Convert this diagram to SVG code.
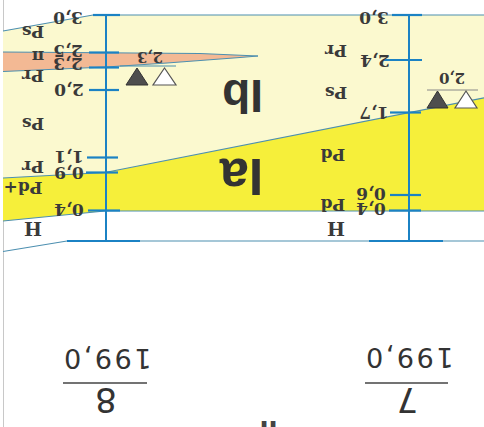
<svg xmlns="http://www.w3.org/2000/svg" width="484" height="427" viewBox="0 0 484 427">
<style>
.lbl{font-family:"DejaVu Serif","Liberation Serif",serif;font-size:17px;font-weight:bold;fill:#3a3a3a;text-anchor:middle}
.sm{font-size:15px}
.big{font-family:"Liberation Sans",Arial,sans-serif;font-weight:bold;fill:#333;text-anchor:middle}
.frac{font-family:"DejaVu Sans","Liberation Sans",sans-serif;fill:#333;text-anchor:middle}
.axis{stroke:#1b82c4;stroke-width:2;fill:none}
.tick{stroke:#1b82c4;stroke-width:2.2;fill:none}
.thin{stroke:#4c8fb0;stroke-width:1.2;fill:none}
</style>
<rect width="484" height="427" fill="#fff"/>
<line x1="3.5" y1="0" x2="3.5" y2="427" stroke="#c8c8c8" stroke-width="1"/>
<g id="zones">
<polygon points="3,31 93,15 484,15 484,97.8 105,172.5 3,178" fill="#fbf9cf"/>
<polygon points="3,178 105,172.5 484,97.8 484,211 105,211 3,221" fill="#f6ef3a"/>
<polygon points="3,52 200,53.5 258,56 240,57.5 167,63 106,67 3,71.5" fill="#f3b994"/>
</g>
<g id="connectors">
<polyline class="thin" points="3,31 93,15 484,15"/>
<polyline class="thin" points="3,178 105,172.5 484,97.8"/>
<polyline class="thin" points="3,221 105,211 484,211"/>
<polyline class="thin" points="3,251.5 67,241 484,241"/>
<polyline class="thin" points="3,52 200,53.5 258,56"/>
<polyline class="thin" points="3,71.5 106,67 167,63 240,57.5 258,56"/>
<line class="thin" x1="120" y1="66" x2="176" y2="66" stroke="#777"/>
<line x1="427" y1="90" x2="478" y2="90" stroke="#888" stroke-width="1"/>
</g>
<g id="axis-left">
<line class="axis" x1="106" y1="15" x2="106" y2="241"/>
<line class="tick" x1="93" y1="15" x2="120" y2="15"/>
<line class="tick" x1="89" y1="52.5" x2="119" y2="52.5"/>
<line class="tick" x1="89" y1="67.5" x2="119" y2="67.5"/>
<line class="tick" x1="89" y1="90" x2="119" y2="90"/>
<line class="tick" x1="87" y1="157.5" x2="118" y2="157.5"/>
<line class="tick" x1="86" y1="172.5" x2="118" y2="172.5"/>
<line class="tick" x1="88" y1="210.5" x2="120" y2="210.5"/>
<line class="tick" x1="67" y1="241" x2="140" y2="241"/>
</g>
<g id="axis-right">
<line class="axis" x1="409" y1="15" x2="409" y2="241"/>
<line class="tick" x1="392" y1="15" x2="422" y2="15"/>
<line class="tick" x1="383" y1="60" x2="422" y2="60"/>
<line class="tick" x1="390" y1="112.5" x2="421" y2="112.5"/>
<line class="tick" x1="390" y1="195" x2="421" y2="195"/>
<line class="tick" x1="389" y1="210.5" x2="421" y2="210.5"/>
<line class="tick" x1="369" y1="241" x2="443" y2="241"/>
</g>
<g id="triangles">
<polygon points="126,85 148,85 137,68" fill="#4e4e4e" stroke="#333" stroke-width="1"/>
<polygon points="153,85 176,85 164.5,68" fill="#fff" stroke="#555" stroke-width="1.2"/>
<polygon points="427,108 448,108 437.5,91" fill="#4e4e4e" stroke="#333" stroke-width="1"/>
<polygon points="455,108 477,108 466,91" fill="#fff" stroke="#555" stroke-width="1.2"/>
</g>
<g id="labels-left">
<text class="lbl" transform="translate(68,18.5) rotate(180)" y="6.2">3,0</text>
<text class="lbl" transform="translate(33,32) rotate(180)" y="6.2">Ps</text>
<text class="lbl" transform="translate(68,51) rotate(180)" y="6.2">2,5</text>
<text class="lbl" transform="translate(38,56) rotate(180)" y="4.8">π</text>
<text class="lbl" transform="translate(68,64) rotate(180)" y="6.2">2,3</text>
<text class="lbl" transform="translate(33,76) rotate(180)" y="6.2">Pr</text>
<text class="lbl" transform="translate(69,90) rotate(180)" y="6.2">2,0</text>
<text class="lbl" transform="translate(33,124) rotate(180)" y="6.2">Ps</text>
<text class="lbl" transform="translate(69,157) rotate(180)" y="6.2">1,1</text>
<text class="lbl" transform="translate(33,167) rotate(180)" y="6.2">Pr</text>
<text class="lbl" transform="translate(69,173) rotate(180)" y="6.2">0,9</text>
<text class="lbl" transform="translate(23,188) rotate(180)" y="6.2">Pd+</text>
<text class="lbl" transform="translate(69,210) rotate(180)" y="6.2">0,4</text>
<text class="lbl" style="font-size:19px" transform="translate(33,229) rotate(180)" y="7">H</text>
<text class="lbl sm" transform="translate(150,57) rotate(180)" y="5.5">2,3</text>
</g>
<g id="labels-right">
<text class="lbl" transform="translate(374,18.5) rotate(180)" y="6.2">3,0</text>
<text class="lbl" transform="translate(336,51) rotate(180)" y="6.2">Pr</text>
<text class="lbl" transform="translate(375,61) rotate(180)" y="6.2">2,4</text>
<text class="lbl" transform="translate(336,93) rotate(180)" y="6.2">Ps</text>
<text class="lbl sm" transform="translate(452,78) rotate(180)" y="5.5">2,0</text>
<text class="lbl" transform="translate(374,113) rotate(180)" y="6.2">1,7</text>
<text class="lbl" transform="translate(333,155) rotate(180)" y="6.2">Pd</text>
<text class="lbl" transform="translate(371,194) rotate(180)" y="6.2">0,6</text>
<text class="lbl" transform="translate(333,205) rotate(180)" y="6.2">Pd</text>
<text class="lbl" transform="translate(371,209) rotate(180)" y="6.2">0,4</text>
<text class="lbl" style="font-size:19px" transform="translate(336,229) rotate(180)" y="7">H</text>
</g>
<g id="zone-Ib"><text class="big" style="font-size:46px" transform="translate(242.5,96.5) rotate(180)" y="16.5">Ib</text></g>
<g id="zone-Ia"><text class="big" style="font-size:52px" transform="translate(241.5,177.5) rotate(180)" y="18.6">Ia</text></g>
<g id="fraction-8">
<text class="frac" style="font-size:27px;letter-spacing:2.5px" transform="translate(106.5,359) rotate(180)" y="9.8">199,0</text>
<line x1="63" y1="383" x2="147" y2="383" stroke="#444" stroke-width="1.6"/>
<text class="frac" style="font-size:34px" transform="translate(106,400) rotate(180)" y="12.4">8</text>
</g>
<g id="fraction-7">
<text class="frac" style="font-size:27px;letter-spacing:2.5px" transform="translate(408.5,358) rotate(180)" y="9.8">199,0</text>
<line x1="365" y1="383" x2="448" y2="383" stroke="#444" stroke-width="1.6"/>
<text class="frac" style="font-size:34px" transform="translate(407.5,400) rotate(180)" y="12.4">7</text>
</g>
<g id="title-fragment"><text class="big" style="font-size:32px;fill:#444" transform="translate(268.5,421) rotate(180)">II</text></g>
</svg>
